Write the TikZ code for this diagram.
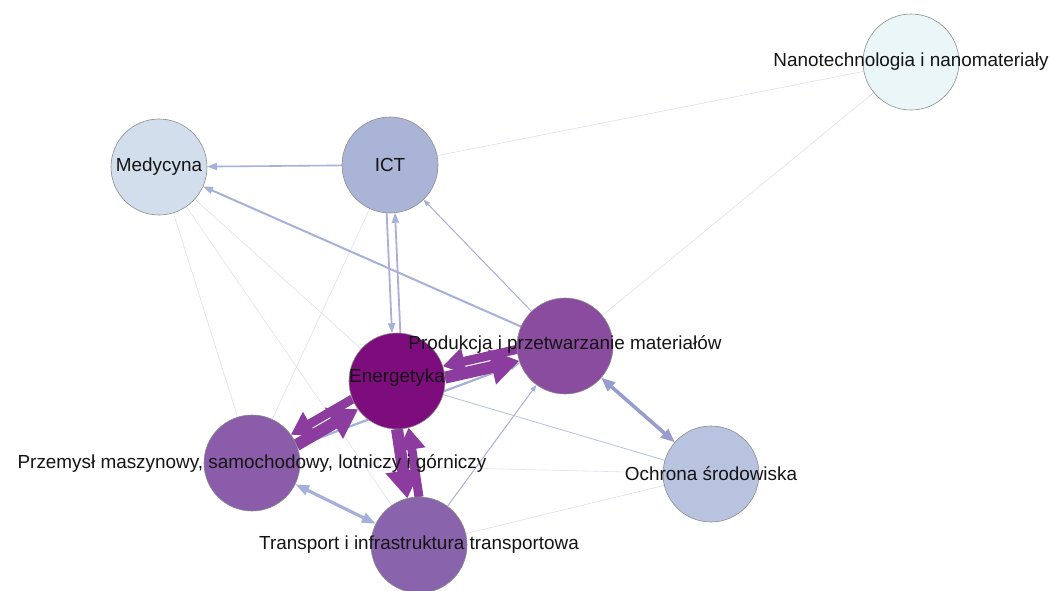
\documentclass[tikz,border=0pt]{standalone}
\usepackage{fontspec}
\setmainfont{Liberation Sans}
\usetikzlibrary{arrows.meta}
\pgfdeclarelayer{edges}
\pgfsetlayers{edges,main}

% node fills
\definecolor{cNano}{HTML}{EAF6F7}
\definecolor{cMed}{HTML}{D3DEEC}
\definecolor{cICT}{HTML}{AAB4D6}
\definecolor{cProd}{HTML}{8A4C9F}
\definecolor{cEner}{HTML}{7D0C7C}
\definecolor{cPrzem}{HTML}{8A5CA9}
\definecolor{cOchr}{HTML}{B8C3DF}
\definecolor{cTrans}{HTML}{8963AB}
% edge colours
\definecolor{eBlue}{HTML}{A7B0D8}
\definecolor{eBlueDark}{HTML}{979ECF}
\definecolor{eFaint}{HTML}{DCE0EC}
\definecolor{ePurple}{HTML}{8B3C9E}

\begin{document}
\begin{tikzpicture}[x=1pt,y=-1pt,
  topic/.style={circle, draw=black!45, line width=0.6pt, minimum size=96pt,
                inner sep=0pt, outer sep=0pt},
  lbl/.style={font=\fontsize{18.9}{22}\selectfont, text=black!92, inner sep=0pt},
  faint/.style={draw=eFaint, line width=0.6pt},
  thinlink/.style={draw=eBlue, line width=1pt,
                   -{Triangle[length=7pt,width=5pt]}},
  bluelink/.style={draw=eBlue, line width=2pt,
                   -{Triangle[length=10pt,width=7pt]}},
  bigarrow/.style={draw=ePurple, line width=12pt,
                   -{Triangle[length=28pt,width=34pt]}},
  smallarrow/.style={draw=ePurple, line width=9pt,
                   -{Triangle[length=22pt,width=26pt]}},
]
\useasboundingbox (0,0) rectangle (1050,590);

% topics
\node[topic, fill=cNano]  (N)  at (911,62)  {};
\node[topic, fill=cMed]   (M)  at (159,167) {};
\node[topic, fill=cICT]   (I)  at (390,165) {};
\node[topic, fill=cProd]  (P)  at (565,346) {};
\node[topic, fill=cEner]  (E)  at (397,381) {};
\node[topic, fill=cPrzem] (Pm) at (252,463) {};
\node[topic, fill=cOchr]  (O)  at (711,474) {};
\node[topic, fill=cTrans] (T)  at (419,545) {};

\begin{pgfonlayer}{edges}
  % weak links
  \draw[faint] (I) -- (N);
  \draw[faint] (P) -- (N);
  \draw[faint] (M) -- (Pm);
  \draw[faint] (M) -- (T);
  \draw[faint] (M) -- (E);
  \draw[faint] (I) -- (Pm);
  \draw[faint] (Pm) -- (O);
  \draw[faint] (T) -- (O);
  \draw[draw=eBlue!75, line width=0.9pt] (E) -- (O);

  % directed links
  \draw[bluelink, line width=1.6pt] (I) -- (M);
  \draw[bluelink] (P) -- (M);
  \draw[thinlink] (P) -- (I);
  \draw[thinlink] (T) -- (P);
  \draw[bluelink, line width=2.2pt] (Pm) -- (P);
  \draw[bluelink, line width=1.8pt] (I.266.8) -- (E.96.8);
  \draw[bluelink, line width=1.8pt] (E.86.8) -- (I.276.8);

  % two-way links
  \draw[draw=eBlueDark, line width=3.6pt,
        {Triangle[length=14pt,width=11pt]}-{Triangle[length=14pt,width=11pt]}] (P) -- (O);
  \draw[draw=eBlue, line width=3.2pt,
        {Triangle[length=14pt,width=10pt]}-{Triangle[length=14pt,width=10pt]}] (Pm) -- (T);

  % strongest links around energy
  \draw[bigarrow]   (E.4.8)   -- (P.198.8);
  \draw[smallarrow] (P.184.8) -- (E.18.8);
  \draw[smallarrow] (E.202.5) -- (Pm.36.5);
  \draw[bigarrow]   (Pm.22.5) -- (E.216.5);
  \draw[bigarrow]   (E.270.6) -- (T.104.6);
  \draw[smallarrow] (T.90.6)  -- (E.284.6);
\end{pgfonlayer}

% topic names
\node[lbl] (Nl)  at (N)  {Nanotechnologia i nanomateriały};
\node[lbl] (Ml)  at (M)  {Medycyna};
\node[lbl] (Il)  at (I)  {ICT};
\node[lbl] (Pl)  at ([yshift=2pt]P) {Produkcja i przetwarzanie materiałów};
\node[lbl] (El)  at ([yshift=3pt]E) {Energetyka};
\node[lbl] (Pml) at (Pm) {Przemysł maszynowy, samochodowy, lotniczy i górniczy};
\node[lbl] (Ol)  at (O)  {Ochrona środowiska};
\node[lbl] (Tl)  at (T)  {Transport i infrastruktura transportowa};
\end{tikzpicture}
\end{document}
